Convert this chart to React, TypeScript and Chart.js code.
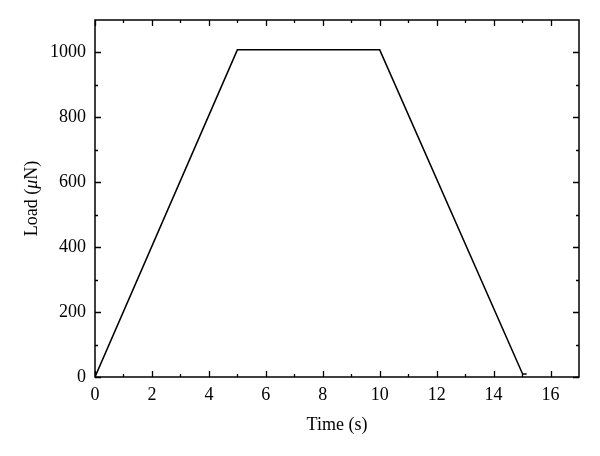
import React, { useEffect, useRef } from "react";
import { Chart, registerables } from "chart.js";

Chart.register(...registerables);

const timeValues = [0, 5, 10, 15.02, 15.16];
const loadValues = [0, 1008, 1008, 9, 9];
const xMajorTicks = [0, 2, 4, 6, 8, 10, 12, 14, 16];
const xMinorTicks = [1, 3, 5, 7, 9, 11, 13, 15];
const yMajorTicks = [0, 200, 400, 600, 800, 1000];
const yMinorTicks = [100, 300, 500, 700, 900];
const yTitleParts = [
  { text: "Load (", italic: false },
  { text: "μ", italic: true },
  { text: "N)", italic: false },
];

const FONT = "'Liberation Serif', 'DejaVu Serif', serif";

const framePlugin = {
  id: "frameTicks",
  afterDatasetsDraw(chart: any) {
    const { ctx, chartArea: a, scales } = chart;
    const xs = scales.x;
    const ys = scales.y;
    ctx.save();
    ctx.strokeStyle = "#000";
    ctx.lineWidth = 1.5;
    ctx.strokeRect(a.left, a.top, a.right - a.left, a.bottom - a.top);
    ctx.lineWidth = 1.3;
    const drawX = (v: number, len: number) => {
      const px = Math.round(xs.getPixelForValue(v)) + 0.5;
      ctx.beginPath();
      ctx.moveTo(px, a.bottom);
      ctx.lineTo(px, a.bottom - len);
      ctx.moveTo(px, a.top);
      ctx.lineTo(px, a.top + len);
      ctx.stroke();
    };
    const drawY = (v: number, len: number) => {
      const py = Math.round(ys.getPixelForValue(v)) + 0.5;
      ctx.beginPath();
      ctx.moveTo(a.left, py);
      ctx.lineTo(a.left + len, py);
      ctx.moveTo(a.right, py);
      ctx.lineTo(a.right - len, py);
      ctx.stroke();
    };
    xMajorTicks.forEach((v) => drawX(v, 6));
    xMinorTicks.forEach((v) => drawX(v, 3));
    yMajorTicks.forEach((v) => drawY(v, 6));
    yMinorTicks.forEach((v) => drawY(v, 3));

    // y axis title with italic mu
    const fontFor = (it: boolean) => `${it ? "italic " : ""}18px ${FONT}`;
    let total = 0;
    const widths = yTitleParts.map((p) => {
      ctx.font = fontFor(p.italic);
      const w = ctx.measureText(p.text).width;
      total += w;
      return w;
    });
    const cy = (a.top + a.bottom) / 2;
    ctx.translate(32, cy);
    ctx.rotate(-Math.PI / 2);
    ctx.fillStyle = "#000";
    ctx.textBaseline = "middle";
    ctx.textAlign = "left";
    let x = -total / 2;
    yTitleParts.forEach((p, i) => {
      ctx.font = fontFor(p.italic);
      ctx.fillText(p.text, x, 0);
      x += widths[i];
    });
    ctx.restore();
  },
};

export default function App() {
  const ref = useRef<HTMLCanvasElement>(null);
  useEffect(() => {
    document.body.style.margin = "0";
    const canvas = ref.current!;
    const chart = new Chart(canvas, {
      type: "scatter",
      data: {
        datasets: [
          {
            data: timeValues.map((t, i) => ({ x: t, y: loadValues[i] })),
            showLine: true,
            borderColor: "#000",
            borderWidth: 1.5,
            pointRadius: 0,
            tension: 0,
          },
        ],
      },
      options: {
        animation: false,
        responsive: false,
        maintainAspectRatio: false,
        layout: { padding: { top: 20, right: 21, left: 0, bottom: 0 } },
        plugins: { legend: { display: false }, tooltip: { enabled: false } },
        scales: {
          x: {
            type: "linear",
            min: 0,
            max: 17,
            afterBuildTicks: (s: any) => {
              s.ticks = xMajorTicks.map((v) => ({ value: v }));
            },
            afterFit: (s: any) => {
              s.height = 79;
            },
            grid: { display: false, drawTicks: false },
            border: { display: false },
            ticks: {
              color: "#000",
              font: { family: FONT, size: 18 },
              padding: 7,
              maxRotation: 0,
              callback: (v: any) => String(v),
            },
            title: {
              display: true,
              text: "Time (s)",
              color: "#000",
              font: { family: FONT, size: 18 },
              padding: { top: 4, bottom: 20 },
            },
          },
          y: {
            type: "linear",
            min: 0,
            max: 1100,
            afterBuildTicks: (s: any) => {
              s.ticks = yMajorTicks.map((v) => ({ value: v }));
            },
            afterFit: (s: any) => {
              s.width = 95;
            },
            grid: { display: false, drawTicks: false },
            border: { display: false },
            ticks: {
              color: "#000",
              font: { family: FONT, size: 18 },
              padding: 9,
              callback: (v: any) => String(v),
            },
            title: { display: false },
          },
        },
      },
      plugins: [framePlugin],
    });
    return () => chart.destroy();
  }, []);
  return <canvas ref={ref} width={600} height={456} style={{ display: "block" }} />;
}
